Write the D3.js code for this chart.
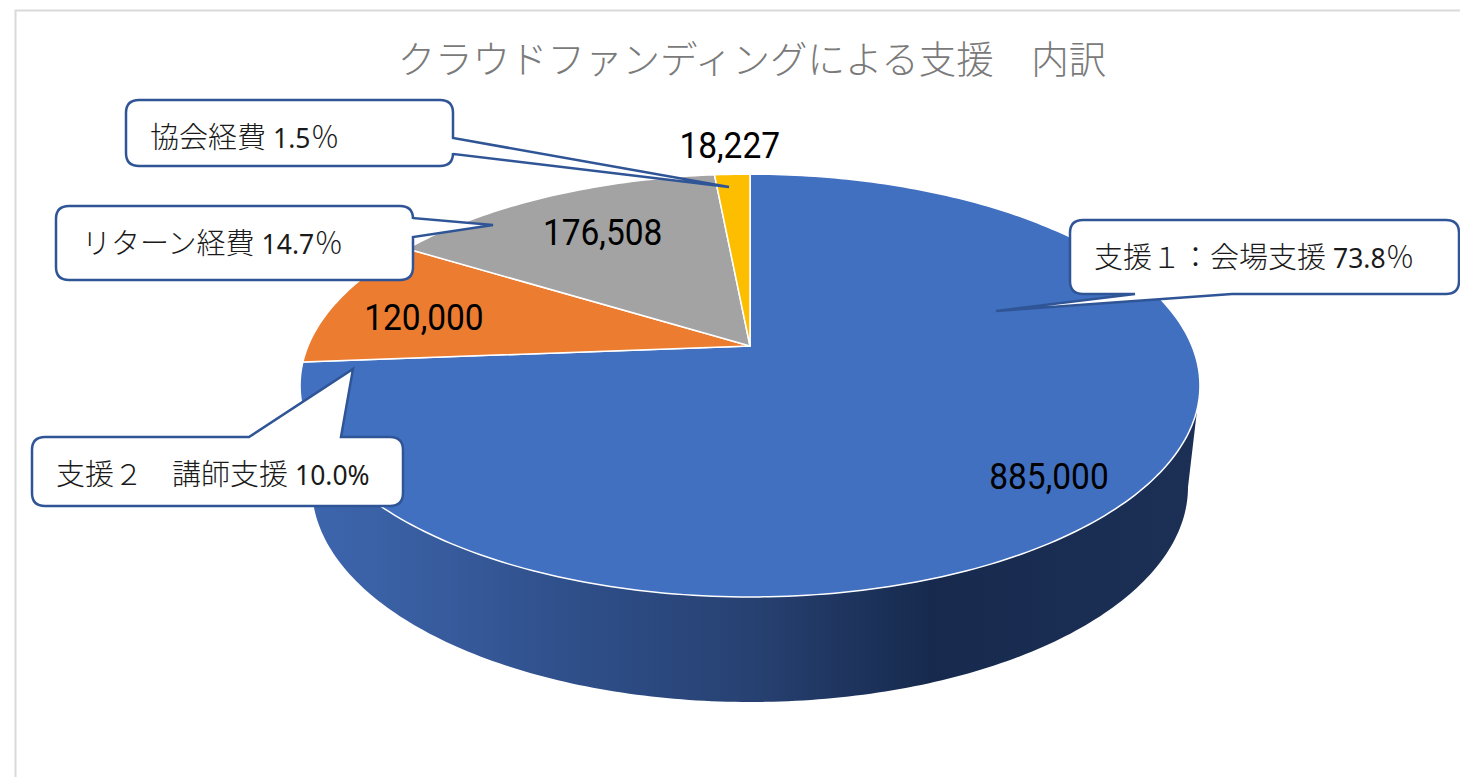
<!DOCTYPE html>
<html>
<head>
<meta charset="utf-8">
<script src="https://cdnjs.cloudflare.com/ajax/libs/d3/7.8.5/d3.min.js"></script>
<style>
  html, body { margin: 0; padding: 0; background: #fff; overflow: hidden; }
  text { font-family: "Noto Sans CJK JP", "Noto Sans", sans-serif; }
  .num { font-family: Roboto, sans-serif; fill: #000; }
</style>
</head>
<body>
<div id="chart"></div>
<script>
const categories = ['支援1:会場支援', '支援2:講師支援', 'リターン経費', '協会経費'];
const values = [885000, 120000, 176508, 18227];
const colors = ['#4270c0', '#eb7c30', '#a3a3a3', '#fdbe00'];
const chartTitle = 'クラウドファンディングによる支援\u3000内訳';
const calloutNames = ['支援１：会場支援', '支援２\u3000講師支援', 'リターン経費', '協会経費'];
const calloutShares = ['73.8', '10.0%', '14.7', '1.5'];
const calloutSigns = ['％', '', '％', '％'];

const width = 1460;
const height = 777;

const svg = d3.select('#chart').append('svg')
    .attr('width', width)
    .attr('height', height);

// Chart frame, cut off by the screenshot on the right and bottom
svg.append('path')
    .attr('d', d3.line()([[15.5, height], [15.5, 10.5], [width, 10.5]]))
    .attr('fill', 'none')
    .attr('stroke', '#d9d9d9')
    .attr('stroke-width', 2);

// Perspective for the top face: the far side of the disc shrinks
const cx = 750;
const cy = 346;
const radiusX = 442;
const radiusY = 204;
const tilt = 0.187;

function project(angle, r) {
    const u = r * Math.sin(angle);
    const v = r * Math.cos(angle);
    const w = 1 + tilt * v;
    return [cx + radiusX * u / w, cy - radiusY * v / w];
}

const line = d3.line();
const step = Math.PI / 180;

function anglesBetween(a, b) {
    return d3.range(a, b, step).concat([b]);
}

const defs = svg.append('defs');
const sideGradient = defs.append('linearGradient')
    .attr('id', 'side')
    .attr('gradientUnits', 'userSpaceOnUse')
    .attr('x1', 300).attr('x2', 1200).attr('y1', 0).attr('y2', 0);
[[0, '#3d66ae'], [0.1, '#3a60a4'], [0.3, '#2f4f8a'], [0.5, '#274172'], [0.7, '#172a4e'], [1, '#1c2f55']]
    .forEach(d => sideGradient.append('stop').attr('offset', d[0]).attr('stop-color', d[1]));

// Side wall: top rim's widest points joined to the lower rim
const wallCx = 750;
const wallCy = 487;
const wallRx = 438;
const wallRy = 215;
const wallBottom = anglesBetween(Math.PI / 2, Math.PI * 1.5)
    .map(a => [wallCx + wallRx * Math.sin(a), wallCy - wallRy * Math.cos(a)]);
const wallTop = [[300, 385], [1200, 385]];
svg.append('path')
    .attr('d', line(wallBottom.concat(wallTop)) + 'Z')
    .attr('fill', 'url(#side)');

// Slices
const pie = d3.pie().sort(null).value(d => d);
const arcs = pie(values);

svg.append('g').selectAll('path')
    .data(arcs)
    .join('path')
    .attr('d', d => {
        const rim = anglesBetween(d.startAngle, d.endAngle).map(a => project(a, 1));
        return line([project(0, 0)].concat(rim)) + 'Z';
    })
    .attr('fill', (d, i) => colors[i])
    .attr('stroke', '#fff')
    .attr('stroke-width', 1.5)
    .attr('stroke-linejoin', 'round');

// Title
svg.append('text')
    .attr('x', 752)
    .attr('y', 73)
    .attr('text-anchor', 'middle')
    .attr('font-size', 37.5)
    .attr('font-weight', 300)
    .attr('fill', '#7a7a7a')
    .text(chartTitle);

// Value labels, set along each slice's middle angle
const labelRadius = [0.825, 0.785, 0.70, 1.17];
const labelShift = [3, 8, -4, -4];
const fmt = d3.format(',');

svg.append('g').selectAll('text')
    .data(arcs)
    .join('text')
    .attr('class', 'num')
    .attr('font-size', 37)
    .attr('text-anchor', 'middle')
    .attr('x', (d, i) => project((d.startAngle + d.endAngle) / 2, labelRadius[i])[0])
    .attr('y', (d, i) => project((d.startAngle + d.endAngle) / 2, labelRadius[i])[1] + 12 + labelShift[i])
    .text(d => fmt(d.value))
    .attr('textLength', function () { return this.getComputedTextLength() * 0.905; })
    .attr('lengthAdjust', 'spacingAndGlyphs');

// Callouts, same order as the categories
const callouts = [
    { box: [1070, 220, 1459, 294], tail: [[1135, 294], [996, 311], [1232, 294]], textAt: [1094, 268] },
    { box: [32, 437, 403, 506], tail: [[249, 437], [353, 369], [341, 437]], textAt: [56, 485] },
    { box: [56, 206, 413, 280], tail: [[413, 218], [493, 225], [413, 237]], textAt: [82, 254] },
    { box: [126, 100, 453, 166], tail: [[453, 138], [729, 187], [453, 154]], textAt: [150, 148] }
];

// Rounded box with its pointer spliced into the outline
function calloutPath(c) {
    const [x0, y0, x1, y1] = c.box;
    const r = 13;
    const [a, tip, b] = c.tail;
    const p = d3.path();
    p.moveTo(x0 + r, y0);
    if (a[1] === y0) { p.lineTo(a[0], y0); p.lineTo(tip[0], tip[1]); p.lineTo(b[0], y0); }
    p.lineTo(x1 - r, y0);
    p.quadraticCurveTo(x1, y0, x1, y0 + r);
    if (a[0] === x1) { p.lineTo(x1, a[1]); p.lineTo(tip[0], tip[1]); p.lineTo(x1, b[1]); }
    p.lineTo(x1, y1 - r);
    p.quadraticCurveTo(x1, y1, x1 - r, y1);
    if (a[1] === y1) { p.lineTo(b[0], y1); p.lineTo(tip[0], tip[1]); p.lineTo(a[0], y1); }
    p.lineTo(x0 + r, y1);
    p.quadraticCurveTo(x0, y1, x0, y1 - r);
    p.lineTo(x0, y0 + r);
    p.quadraticCurveTo(x0, y0, x0 + r, y0);
    p.closePath();
    return p.toString();
}

const calloutG = svg.append('g').selectAll('g')
    .data(callouts)
    .join('g');

calloutG.append('path')
    .attr('d', calloutPath)
    .attr('fill', '#fff')
    .attr('stroke', '#2f5597')
    .attr('stroke-width', 2.5)
    .attr('stroke-linejoin', 'miter')
    .attr('stroke-miterlimit', 3);

const label = calloutG.append('text')
    .attr('x', d => d.textAt[0])
    .attr('y', d => d.textAt[1])
    .attr('fill', '#1a1a1a');

label.append('tspan')
    .attr('font-size', 29)
    .attr('font-weight', 300)
    .text((d, i) => calloutNames[i]);

label.append('tspan')
    .attr('dx', 7)
    .attr('font-size', 26.5)
    .attr('font-family', '"Noto Sans", sans-serif')
    .text((d, i) => calloutShares[i]);

label.append('tspan')
    .attr('font-size', 29)
    .attr('font-weight', 300)
    .text((d, i) => calloutSigns[i]);
</script>
</body>
</html>
